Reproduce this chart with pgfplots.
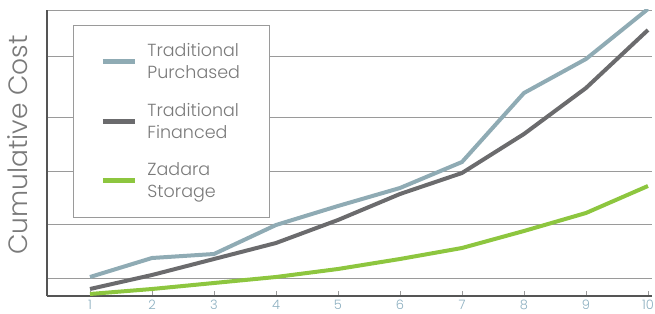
\documentclass[border=0pt]{standalone}
\usepackage{fontspec}
\setmainfont{Poppins}[UprightFont=* Light]
\usepackage{pgfplots}
\pgfplotsset{compat=1.18}
\definecolor{cPur}{HTML}{8FABB4}
\definecolor{cFin}{HTML}{6B6B6D}
\definecolor{cZad}{HTML}{8DC63F}
\definecolor{cGrid}{HTML}{9A9A9A}
\definecolor{cAxis}{HTML}{555555}
\definecolor{cText}{HTML}{7A7A7A}
\definecolor{cTick}{HTML}{8CAFC0}
\begin{document}
\begin{tikzpicture}
\begin{axis}[
  at={(0,0)}, anchor=south west,
  scale only axis,
  width=605pt, height=286pt,
  xmin=0.3065, xmax=10.065,
  ymin=0, ymax=286,
  axis x line=bottom, axis y line=left,
  axis line style={draw=cAxis, line width=1.3pt, -},
  xtick={1,...,10},
  xtick style={draw=cGrid, line width=0.8pt},
  major tick length=5pt,
  tick align=inside,
  x tick label style={font=\fontsize{13}{14}\selectfont, text=cTick, inner sep=0pt, yshift=-4pt},
  /pgf/number format/assume math mode=true,
  ytick={18,72,125,179,240,286},
  yticklabels={},
  ytick style={draw=none},
  ymajorgrids,
  grid style={draw=cGrid, line width=0.9pt},
  ylabel={Cumulative Cost},
  ylabel style={at={(axis description cs:-0.048,0.528)}, anchor=center, font=\fontsize{26.5}{28}\selectfont, text=cText},
  legend style={at={(axis description cs:0.043,0.948)}, anchor=north west,
    draw=cGrid, line width=0.9pt, inner xsep=27pt, inner ysep=16pt,
    font=\fontsize{17.5}{22}\selectfont, text=cText,
    nodes={align=left, inner sep=2pt}, row sep=19pt},
  legend cell align=left,
  legend image code/.code={\draw[#1, line width=5pt] (0pt,0pt) -- (32pt,0pt);},
  legend style={/tikz/every even column/.append style={column sep=0pt}},
]
\addplot[cPur, line width=4pt] coordinates {(1,19) (2,38) (3,42) (4,71) (5,90) (6,108) (7,134) (8,203) (9,237) (10,287)};
\addlegendentry{\hspace{8pt}Traditional\\\hspace{8pt}Purchased}
\addplot[cFin, line width=4pt] coordinates {(1,7) (2,21) (3,37) (4,53) (5,76) (6,102) (7,123) (8,162) (9,208) (10,266)};
\addlegendentry{\hspace{8pt}Traditional\\\hspace{8pt}Financed}
\addplot[cZad, line width=4pt] coordinates {(1,2) (2,7) (3,13) (4,19) (5,27) (6,37) (7,48) (8,65) (9,83) (10,110)};
\addlegendentry{\hspace{8pt}Zadara\\\hspace{8pt}Storage}
\end{axis}
\pgfresetboundingbox
\path[use as bounding box] (-47pt,-17pt) rectangle (608pt,296pt);
\end{tikzpicture}
\end{document}
